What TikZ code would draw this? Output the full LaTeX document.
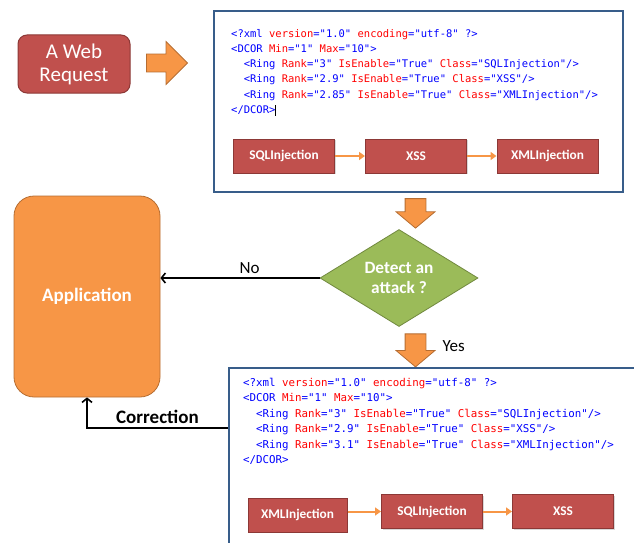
\documentclass[tikz,border=0pt]{standalone}
\usepackage{fontspec}
\setmainfont{Carlito}
\setmonofont{DejaVu Sans Mono}
\usetikzlibrary{shapes.geometric,shapes.arrows,arrows.meta,shadows}
\definecolor{webred}{HTML}{C0504D}
\definecolor{webredline}{HTML}{8C3836}
\definecolor{apporange}{HTML}{F79646}
\definecolor{apporangeline}{HTML}{B66D31}
\definecolor{testgreen}{HTML}{9BBB59}
\definecolor{testgreenline}{HTML}{71893F}
\definecolor{boxblue}{HTML}{385D8A}
\definecolor{xmlblue}{HTML}{0000FF}
\definecolor{xmlred}{HTML}{FF0000}
\newcommand\xmlb[1]{\textcolor{xmlblue}{#1}}
\newcommand\xmlr[1]{\textcolor{xmlred}{#1}}
\tikzset{
  webbox/.style={draw=webredline, fill=webred, line width=1pt, rounded corners=9pt,
    minimum width=112pt, minimum height=58pt, text=white, align=center,
    font=\fontsize{21}{23}\selectfont},
  blockarrow/.style={single arrow, draw=apporangeline, fill=apporange, line width=.8pt,
    inner sep=0pt},
  codebox/.style={draw=boxblue, fill=white, line width=1.6pt, inner sep=0pt},
  xmltext/.style={inner sep=0pt, align=left, font=\ttfamily\fontsize{10.5}{15.2}\selectfont},
  attackbox/.style={draw=webredline, fill=webred, line width=1pt, text=white,
    minimum width=101pt, minimum height=34pt, inner sep=0pt,
    drop shadow={opacity=.3, shadow xshift=1.2pt, shadow yshift=-1.2pt},
    font=\bfseries\fontsize{13.3}{16}\selectfont},
  order/.style={draw=apporange, line width=2pt, -{Triangle[length=6pt,width=8pt]}},
  decision/.style={diamond, draw=testgreenline, fill=testgreen, line width=.8pt,
    shape aspect=1.63, inner sep=0pt, minimum width=158pt, minimum height=97pt,
    text=white, align=center, font=\bfseries\fontsize{17.3}{20}\selectfont},
  appbox/.style={draw=apporangeline, fill=apporange, line width=.8pt, rounded corners=20pt,
    minimum width=146pt, minimum height=201pt, text=white,
    font=\bfseries\fontsize{19}{22}\selectfont},
  flow/.style={line width=1.6pt, black},
  tag/.style={font=\fontsize{17}{20}\selectfont}
}
\begin{document}
\begin{tikzpicture}[x=1pt, y=-1pt, >={Straight Barb[length=4pt,width=10pt]}]
\useasboundingbox (0,0) rectangle (634,543);
\clip (0,0) rectangle (634,543);
% the request comes in
\node[webbox] (req) at (74,64) {A Web\\Request};
\node[blockarrow, minimum height=41pt, inner ysep=8.5pt, single arrow head extend=12.5pt] (go) at (162.5,63) {};

% first set of rules
\node[codebox, minimum width=409pt, minimum height=181pt] (rules) at (418.5,101.5) {};
\node[xmltext, anchor=north west] (rulexml) at (231,29) {%
\xmlb{<?xml} \xmlr{version}\xmlb{="1.0"} \xmlr{encoding}\xmlb{="utf-8" ?>}\\
\xmlb{<DCOR} \xmlr{Min}\xmlb{="1"} \xmlr{Max}\xmlb{="10">}\\
\ \ \xmlb{<Ring} \xmlr{Rank}\xmlb{="3"} \xmlr{IsEnable}\xmlb{="True"} \xmlr{Class}\xmlb{="SQLInjection"/>}\\
\ \ \xmlb{<Ring} \xmlr{Rank}\xmlb{="2.9"} \xmlr{IsEnable}\xmlb{="True"} \xmlr{Class}\xmlb{="XSS"/>}\\
\ \ \xmlb{<Ring} \xmlr{Rank}\xmlb{="2.85"} \xmlr{IsEnable}\xmlb{="True"} \xmlr{Class}\xmlb{="XMLInjection"/>}\\
\xmlb{</DCOR>}\rule[-2.5pt]{.6pt}{11pt}};
\node[attackbox] (sqla) at (284,156) {SQLInjection};
\node[attackbox] (xssa) at (416,156) {XSS};
\node[attackbox] (xmla) at (547.5,156) {XMLInjection};
\draw[order] (sqla) -- (xssa);
\draw[order] (xssa) -- (xmla);

% the test
\node[blockarrow, shape border rotate=270, single arrow tip angle=100, minimum height=28pt,
  inner sep=10pt, single arrow head extend=9pt] (down) at (415.5,209) {};
\node[decision] (detect) at (399,278) {Detect an\\attack ?};
\node[appbox] (app) at (87,296.5) {Application};
\draw[flow,->] (detect.west) -- (app.east |- detect.west) node[tag, pos=.44, above=0pt] {No};
\node[blockarrow, shape border rotate=270, single arrow tip angle=100, minimum height=33pt,
  inner sep=10pt, single arrow head extend=9pt] (yesdown) at (415.5,346) {};
\node[tag, anchor=west] (yes) at (439,346) {Yes};

% the corrected rules
\node[codebox, minimum width=420pt, minimum height=200pt, anchor=north west] (fixed) at (228,367) {};
\node[xmltext, anchor=north west, font=\ttfamily\fontsize{10.8}{15.5}\selectfont] (fixedxml) at (243,378) {%
\xmlb{<?xml} \xmlr{version}\xmlb{="1.0"} \xmlr{encoding}\xmlb{="utf-8" ?>}\\
\xmlb{<DCOR} \xmlr{Min}\xmlb{="1"} \xmlr{Max}\xmlb{="10">}\\
\ \ \xmlb{<Ring} \xmlr{Rank}\xmlb{="3"} \xmlr{IsEnable}\xmlb{="True"} \xmlr{Class}\xmlb{="SQLInjection"/>}\\
\ \ \xmlb{<Ring} \xmlr{Rank}\xmlb{="2.9"} \xmlr{IsEnable}\xmlb{="True"} \xmlr{Class}\xmlb{="XSS"/>}\\
\ \ \xmlb{<Ring} \xmlr{Rank}\xmlb{="3.1"} \xmlr{IsEnable}\xmlb{="True"} \xmlr{Class}\xmlb{="XMLInjection"/>}\\
\xmlb{</DCOR>}};
\node[attackbox, minimum width=99pt] (xmlb) at (297.5,515) {XMLInjection};
\node[attackbox] (sqlb) at (432,511.5) {SQLInjection};
\node[attackbox] (xssb) at (563,511.5) {XSS};
\draw[order] (xmlb.east |- sqlb.west) -- (sqlb.west);
\draw[order] (sqlb) -- (xssb);

\coordinate (back) at (228,428);
\draw[flow,->] (back) -| (app.south) node[pos=.25, above=0pt, font=\bfseries\fontsize{19}{22}\selectfont] {Correction};
\end{tikzpicture}
\end{document}
